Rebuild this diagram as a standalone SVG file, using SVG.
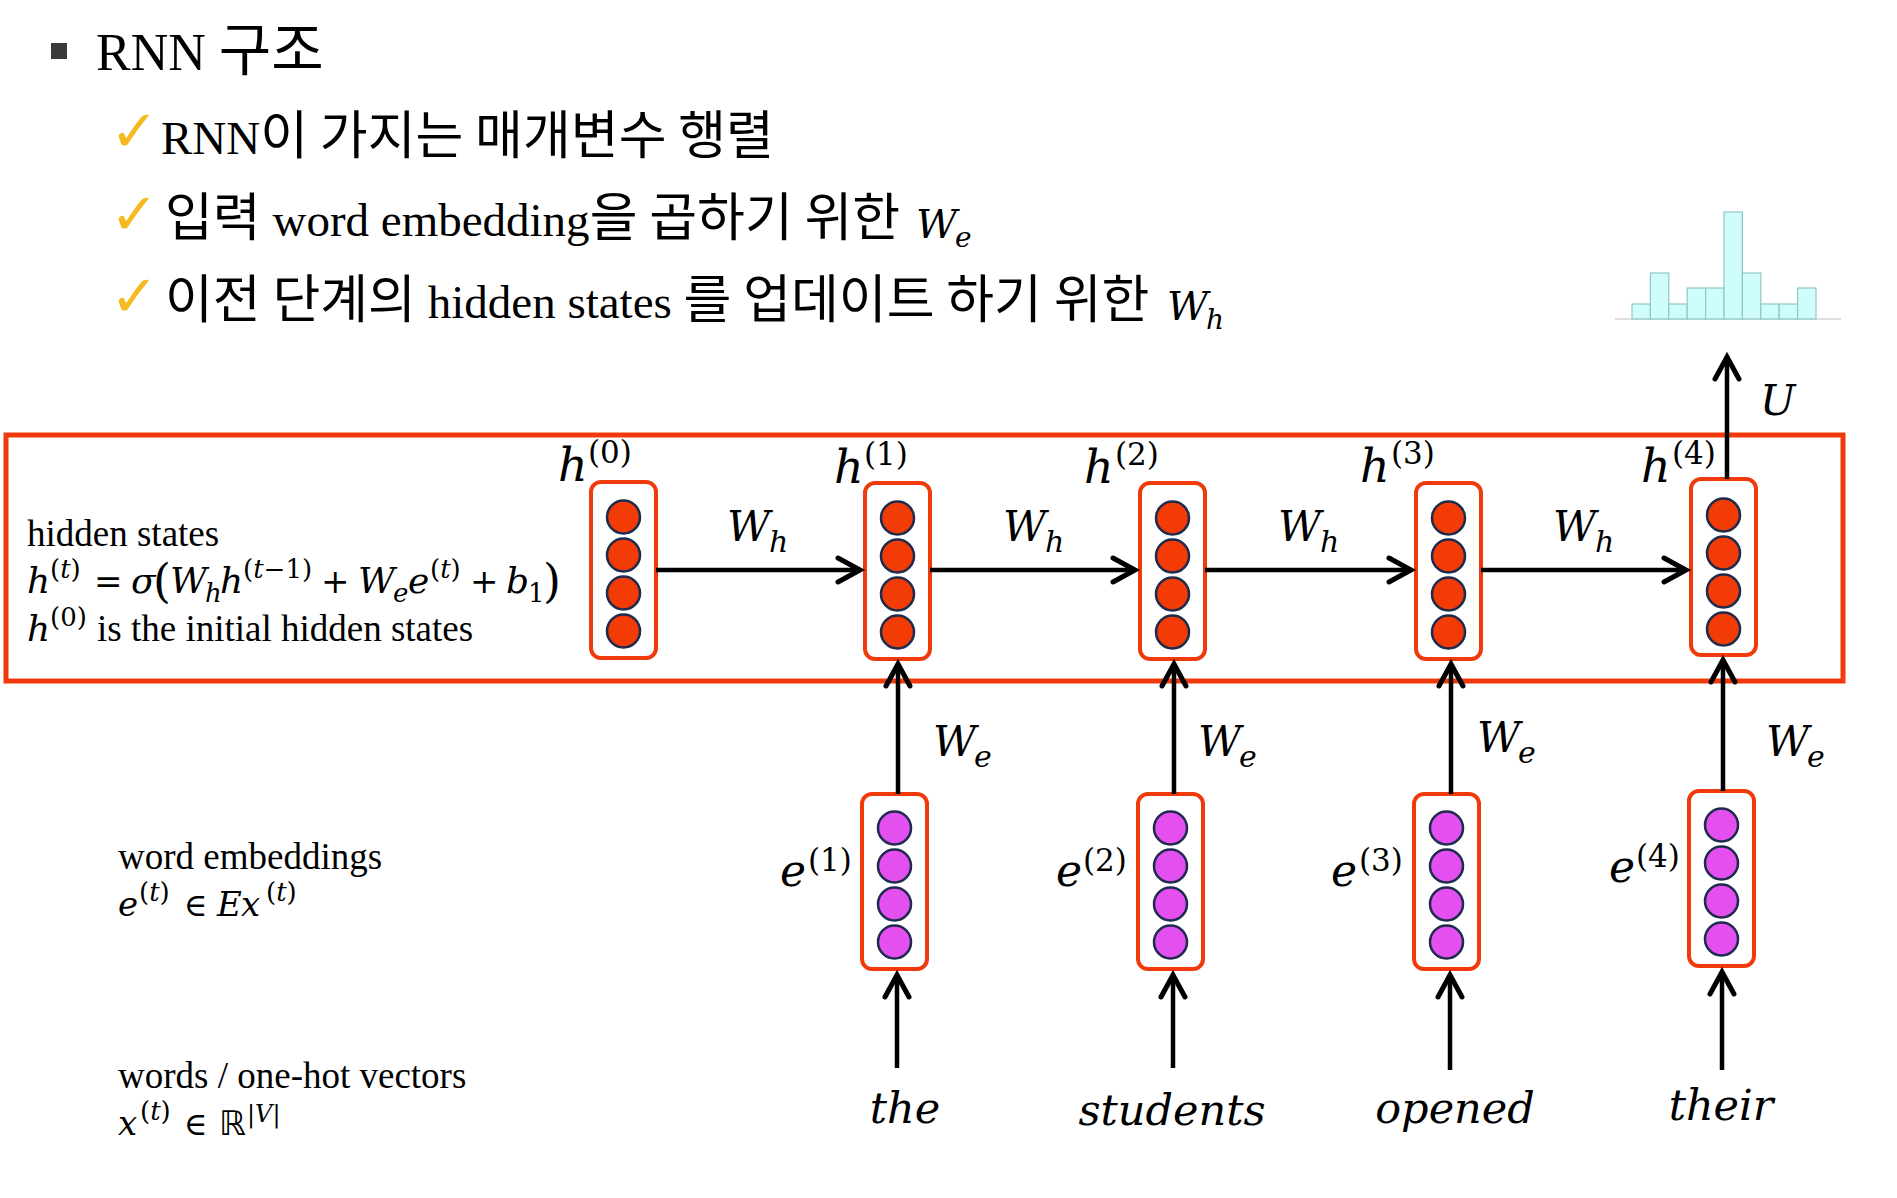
<svg xmlns="http://www.w3.org/2000/svg" width="1897" height="1198" viewBox="0 0 1897 1198">
<style>
.kr{font-family:"Liberation Serif","Noto Sans CJK KR",serif;fill:#000}
.k{font-family:"Noto Sans CJK KR","Liberation Serif",sans-serif}
.tm{font-family:"Liberation Serif",serif;fill:#000}
.mi{font-family:"DejaVu Serif",serif;font-style:italic;fill:#000}
.mu{font-family:"DejaVu Serif",serif;fill:#000}
.ds{font-family:"DejaVu Sans",serif;fill:#000}
.chk{font-family:"DejaVu Sans",sans-serif;fill:#f5b921;font-size:58px;font-weight:bold}
.box{fill:#fff;stroke:#f03a0c;stroke-width:4}
.hc{fill:#f33b05;stroke:#1e2b4d;stroke-width:2.5}
.ec{fill:#e44ff0;stroke:#1e2b4d;stroke-width:2.5}
.conn{stroke:#000;stroke-width:4.5;fill:none;marker-end:url(#ah)}
.bar{fill:#cffcfc;stroke:#92c6c6;stroke-width:1.2}
</style>
<defs>
<marker id="ah" viewBox="-30 -20 40 40" refX="0" refY="0" markerWidth="40" markerHeight="40" markerUnits="userSpaceOnUse" orient="auto">
<path d="M-22,-12 L0,0 L-22,12" fill="none" stroke="#000" stroke-width="5" stroke-linecap="round"/>
</marker>
</defs>
<rect width="1897" height="1198" fill="#fff"/>

<g id="title">
<rect x="51" y="43" width="16" height="16" fill="#3a3a3a"/>
<text class="kr" x="96" y="70" font-size="52">RNN <tspan class="k" font-size="57">구조</tspan></text>
</g>
<g id="line1">
<text class="chk" x="110" y="151">✓</text>
<text class="kr" x="161" y="154" font-size="47">RNN<tspan class="k" font-size="52">이</tspan> <tspan class="k" font-size="52">가지는</tspan> <tspan class="k" font-size="52">매개변수</tspan> <tspan class="k" font-size="52">행렬</tspan></text>
</g>
<g id="line2">
<text class="chk" x="110" y="234">✓</text>
<text class="kr" x="165" y="236" font-size="47"><tspan class="k" font-size="52">입력</tspan> word embedding<tspan class="k" font-size="52">을</tspan> <tspan class="k" font-size="52">곱하기</tspan> <tspan class="k" font-size="52">위한</tspan></text>
<text class="mi" x="916" y="238" font-size="40">W</text>
<text class="mi" x="955" y="247" font-size="28">e</text>
</g>
<g id="line3">
<text class="chk" x="110" y="316">✓</text>
<text class="kr" x="165" y="318" font-size="47"><tspan class="k" font-size="52">이전</tspan> <tspan class="k" font-size="52">단계의</tspan> hidden states <tspan class="k" font-size="52">를</tspan> <tspan class="k" font-size="52">업데이트</tspan> <tspan class="k" font-size="52">하기</tspan> <tspan class="k" font-size="52">위한</tspan></text>
<text class="mi" x="1167" y="320" font-size="40">W</text>
<text class="mi" x="1206" y="329" font-size="28">h</text>
</g>

<g id="histogram">
<line x1="1615" y1="319" x2="1841" y2="319" stroke="#d6d6d6" stroke-width="1.5"/>
<rect class="bar" x="1632" y="304" width="18.4" height="15"/>
<rect class="bar" x="1650.4" y="273" width="18.4" height="46"/>
<rect class="bar" x="1668.8" y="304" width="18.4" height="15"/>
<rect class="bar" x="1687.2" y="288" width="18.4" height="31"/>
<rect class="bar" x="1705.6" y="288" width="18.4" height="31"/>
<rect class="bar" x="1724" y="212" width="18.4" height="107"/>
<rect class="bar" x="1742.4" y="273" width="18.4" height="46"/>
<rect class="bar" x="1760.8" y="304" width="18.4" height="15"/>
<rect class="bar" x="1779.2" y="304" width="18.4" height="15"/>
<rect class="bar" x="1797.6" y="288" width="18.4" height="31"/>
</g>

<g id="hidden-frame">
<rect x="6" y="435" width="1837" height="246" fill="none" stroke="#f03a0c" stroke-width="5"/>
</g>

<g id="legend-hidden">
<text class="tm" x="27" y="546" font-size="37">hidden states</text>
<text class="mi" x="27" y="593" font-size="36">h</text>
<text class="mu" x="50" y="578" font-size="26">(<tspan class="mi">t</tspan>)</text>
<text class="mu" x="94" y="593" font-size="34">=</text>
<text class="mi" x="131" y="593" font-size="36">σ</text>
<text class="mu" x="153" y="597" font-size="46">(</text>
<text class="mi" x="170" y="593" font-size="36">W</text>
<text class="mi" x="205" y="602" font-size="26">h</text>
<text class="mi" x="220" y="593" font-size="36">h</text>
<text class="mu" x="243" y="578" font-size="26">(<tspan class="mi">t</tspan>−1)</text>
<text class="mu" x="321" y="593" font-size="34">+</text>
<text class="mi" x="358" y="593" font-size="36">W</text>
<text class="mi" x="393" y="602" font-size="26">e</text>
<text class="mi" x="408" y="593" font-size="36">e</text>
<text class="mu" x="430" y="578" font-size="26">(<tspan class="mi">t</tspan>)</text>
<text class="mu" x="470" y="593" font-size="34">+</text>
<text class="mi" x="506" y="593" font-size="36">b</text>
<text class="mu" x="528" y="602" font-size="26">1</text>
<text class="mu" x="543" y="597" font-size="46">)</text>
<text class="mi" x="27" y="641" font-size="36">h</text>
<text class="mu" x="50" y="626" font-size="26">(0)</text>
<text class="tm" x="97" y="641" font-size="37">is the initial hidden states</text>
</g>

<g id="legend-embed">
<text class="tm" x="118" y="869" font-size="37">word embeddings</text>
<text class="mi" x="118" y="916" font-size="34">e</text>
<text class="mu" x="139" y="901" font-size="26">(<tspan class="mi">t</tspan>)</text>
<text class="mu" x="184" y="916" font-size="32">∈</text>
<text class="mi" x="217" y="916" font-size="34">E</text>
<text class="mi" x="241" y="916" font-size="34">x</text>
<text class="mu" x="266" y="901" font-size="26">(<tspan class="mi">t</tspan>)</text>
</g>
<g id="legend-words">
<text class="tm" x="118" y="1088" font-size="37">words / one-hot vectors</text>
<text class="mi" x="118" y="1135" font-size="34">x</text>
<text class="mu" x="140" y="1120" font-size="26">(<tspan class="mi">t</tspan>)</text>
<text class="mu" x="184" y="1135" font-size="32">∈</text>
<text class="ds" x="219" y="1135" font-size="34">ℝ</text>
<text class="mu" x="247" y="1122" font-size="24">|<tspan class="mi">V</tspan>|</text>
</g>

<g id="h0">
<rect class="box" x="591" y="482" width="65" height="176" rx="10"/>
<circle class="hc" cx="623.5" cy="517" r="16.5"/><circle class="hc" cx="623.5" cy="555" r="16.5"/><circle class="hc" cx="623.5" cy="593" r="16.5"/><circle class="hc" cx="623.5" cy="631" r="16.5"/>
<text class="mi" x="558" y="481" font-size="46">h</text>
<text class="mu" x="588" y="463" font-size="31">(0)</text>
</g>
<g id="h1">
<rect class="box" x="865" y="483" width="65" height="176" rx="10"/>
<circle class="hc" cx="897.5" cy="518" r="16.5"/><circle class="hc" cx="897.5" cy="556" r="16.5"/><circle class="hc" cx="897.5" cy="594" r="16.5"/><circle class="hc" cx="897.5" cy="632" r="16.5"/>
<text class="mi" x="834" y="483" font-size="46">h</text>
<text class="mu" x="864" y="465" font-size="31">(1)</text>
</g>
<g id="h2">
<rect class="box" x="1140" y="483" width="65" height="176" rx="10"/>
<circle class="hc" cx="1172.5" cy="518" r="16.5"/><circle class="hc" cx="1172.5" cy="556" r="16.5"/><circle class="hc" cx="1172.5" cy="594" r="16.5"/><circle class="hc" cx="1172.5" cy="632" r="16.5"/>
<text class="mi" x="1084" y="483" font-size="46">h</text>
<text class="mu" x="1115" y="465" font-size="31">(2)</text>
</g>
<g id="h3">
<rect class="box" x="1416" y="483" width="65" height="176" rx="10"/>
<circle class="hc" cx="1448.5" cy="518" r="16.5"/><circle class="hc" cx="1448.5" cy="556" r="16.5"/><circle class="hc" cx="1448.5" cy="594" r="16.5"/><circle class="hc" cx="1448.5" cy="632" r="16.5"/>
<text class="mi" x="1360" y="482" font-size="46">h</text>
<text class="mu" x="1391" y="464" font-size="31">(3)</text>
</g>
<g id="h4">
<rect class="box" x="1691" y="479" width="65" height="176" rx="10"/>
<circle class="hc" cx="1723.5" cy="515" r="16.5"/><circle class="hc" cx="1723.5" cy="553" r="16.5"/><circle class="hc" cx="1723.5" cy="591" r="16.5"/><circle class="hc" cx="1723.5" cy="629" r="16.5"/>
<text class="mi" x="1641" y="482" font-size="46">h</text>
<text class="mu" x="1672" y="464" font-size="31">(4)</text>
</g>

<g id="e1">
<rect class="box" x="862" y="794" width="65" height="175" rx="10"/>
<circle class="ec" cx="894.5" cy="828" r="16.5"/><circle class="ec" cx="894.5" cy="866" r="16.5"/><circle class="ec" cx="894.5" cy="904" r="16.5"/><circle class="ec" cx="894.5" cy="942" r="16.5"/>
<text class="mi" x="780" y="886" font-size="44">e</text>
<text class="mu" x="808" y="871" font-size="31">(1)</text>
</g>
<g id="e2">
<rect class="box" x="1138" y="794" width="65" height="175" rx="10"/>
<circle class="ec" cx="1170.5" cy="828" r="16.5"/><circle class="ec" cx="1170.5" cy="866" r="16.5"/><circle class="ec" cx="1170.5" cy="904" r="16.5"/><circle class="ec" cx="1170.5" cy="942" r="16.5"/>
<text class="mi" x="1056" y="886" font-size="44">e</text>
<text class="mu" x="1083" y="871" font-size="31">(2)</text>
</g>
<g id="e3">
<rect class="box" x="1414" y="794" width="65" height="175" rx="10"/>
<circle class="ec" cx="1446.5" cy="828" r="16.5"/><circle class="ec" cx="1446.5" cy="866" r="16.5"/><circle class="ec" cx="1446.5" cy="904" r="16.5"/><circle class="ec" cx="1446.5" cy="942" r="16.5"/>
<text class="mi" x="1331" y="886" font-size="44">e</text>
<text class="mu" x="1359" y="871" font-size="31">(3)</text>
</g>
<g id="e4">
<rect class="box" x="1689" y="791" width="65" height="175" rx="10"/>
<circle class="ec" cx="1721.5" cy="825" r="16.5"/><circle class="ec" cx="1721.5" cy="863" r="16.5"/><circle class="ec" cx="1721.5" cy="901" r="16.5"/><circle class="ec" cx="1721.5" cy="939" r="16.5"/>
<text class="mi" x="1609" y="882" font-size="44">e</text>
<text class="mu" x="1636" y="867" font-size="31">(4)</text>
</g>

<g id="w1"><text class="mi" x="905" y="1123" font-size="43" text-anchor="middle">the</text></g>
<g id="w2"><text class="mi" x="1172" y="1125" font-size="43" text-anchor="middle">students</text></g>
<g id="w3"><text class="mi" x="1455" y="1123" font-size="43" text-anchor="middle">opened</text></g>
<g id="w4"><text class="mi" x="1721" y="1120" font-size="43" text-anchor="middle">their</text></g>

<g id="connectors">
<path class="conn" d="M656,570 H860"/>
<path class="conn" d="M930,570 H1135"/>
<path class="conn" d="M1205,570 H1411"/>
<path class="conn" d="M1481,570 H1686"/>
<path class="conn" d="M898,794 V664"/>
<path class="conn" d="M1174,794 V664"/>
<path class="conn" d="M1451,794 V664"/>
<path class="conn" d="M1723,791 V660"/>
<path class="conn" d="M897,1068 V975"/>
<path class="conn" d="M1173,1068 V975"/>
<path class="conn" d="M1450,1070 V975"/>
<path class="conn" d="M1722,1070 V972"/>
<path class="conn" d="M1727,479 V357"/>
</g>

<g id="edge-labels">
<text class="mi" x="727" y="541" font-size="42">W</text><text class="mi" x="769" y="552" font-size="30">h</text>
<text class="mi" x="1003" y="541" font-size="42">W</text><text class="mi" x="1045" y="552" font-size="30">h</text>
<text class="mi" x="1278" y="541" font-size="42">W</text><text class="mi" x="1320" y="552" font-size="30">h</text>
<text class="mi" x="1553" y="541" font-size="42">W</text><text class="mi" x="1595" y="552" font-size="30">h</text>
<text class="mi" x="933" y="756" font-size="42">W</text><text class="mi" x="974" y="767" font-size="30">e</text>
<text class="mi" x="1198" y="756" font-size="42">W</text><text class="mi" x="1239" y="767" font-size="30">e</text>
<text class="mi" x="1477" y="752" font-size="42">W</text><text class="mi" x="1518" y="763" font-size="30">e</text>
<text class="mi" x="1766" y="756" font-size="42">W</text><text class="mi" x="1807" y="767" font-size="30">e</text>
<text class="mi" x="1760" y="415" font-size="42">U</text>
</g>
</svg>
